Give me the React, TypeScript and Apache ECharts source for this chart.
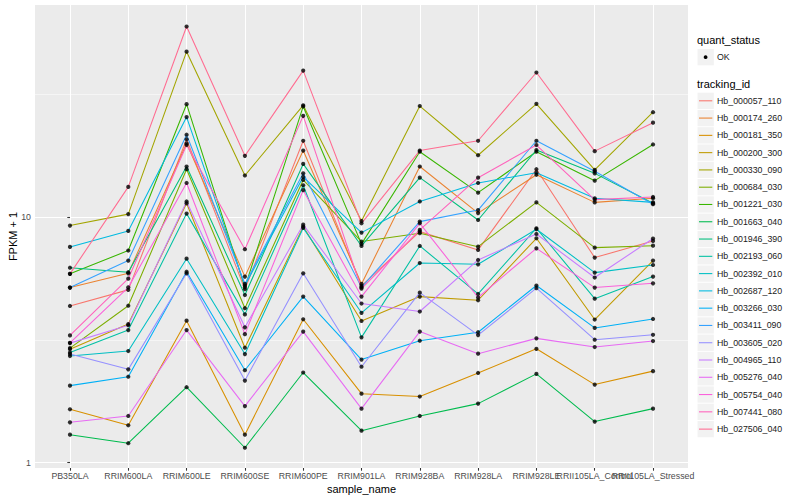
import React, { useEffect, useRef } from "react";
import * as echarts from "echarts";

const sampleNames = [
  "PB350LA", "RRIM600LA", "RRIM600LE", "RRIM600SE", "RRIM600PE", "RRIM901LA",
  "RRIM928BA", "RRIM928LA", "RRIM928LE", "RRII105LA_Control", "RRII105LA_Stressed",
];

const trackingIds = [
  "Hb_000057_110", "Hb_000174_260", "Hb_000181_350", "Hb_000200_300", "Hb_000330_090",
  "Hb_000684_030", "Hb_001221_030", "Hb_001663_040", "Hb_001946_390", "Hb_002193_060",
  "Hb_002392_010", "Hb_002687_120", "Hb_003266_030", "Hb_003411_090", "Hb_003605_020",
  "Hb_004965_110", "Hb_005276_040", "Hb_005754_040", "Hb_007441_080", "Hb_027506_040",
];

const hueColors = [
  "#F8766D", "#EA8331", "#D89000", "#C09B00", "#A3A500",
  "#7CAE00", "#39B600", "#00BB4E", "#00BF7D", "#00C1A3",
  "#00BFC4", "#00BAE0", "#00B0F6", "#35A2FF", "#9590FF",
  "#C77CFF", "#E76BF3", "#FA62DB", "#FF62BC", "#FF6C91",
];

// FPKM + 1 per sample (same order as sampleNames)
const hb_000057_110 = [4.35, 5.06, 20.8, 5.09, 20.5, 5.25, 8.74, 7.36, 15.7, 6.85, 8.01];
const hb_000174_260 = [5.17, 5.91, 20.0, 5.73, 18.7, 5.35, 16.1, 10.4, 14.9, 11.5, 11.95];
const hb_000181_350 = [1.65, 1.42, 3.79, 1.30, 3.84, 1.91, 1.86, 2.32, 2.91, 2.08, 2.36];
const hb_000200_300 = [2.90, 3.67, 11.4, 2.94, 9.16, 3.78, 4.75, 4.59, 8.21, 3.83, 6.66];
const hb_000330_090 = [9.25, 10.3, 47.3, 14.8, 28.6, 9.66, 28.4, 17.9, 29.0, 15.6, 26.8];
const hb_000684_030 = [2.93, 4.36, 15.7, 4.26, 14.2, 7.96, 8.61, 7.59, 11.5, 7.52, 7.66];
const hb_001221_030 = [5.88, 7.32, 28.9, 5.18, 28.3, 7.79, 18.5, 12.6, 18.5, 14.1, 19.8];
const hb_001663_040 = [1.30, 1.20, 2.03, 1.15, 2.33, 1.35, 1.55, 1.74, 2.30, 1.47, 1.66];
const hb_001946_390 = [6.23, 5.97, 16.1, 4.82, 16.5, 7.64, 14.5, 9.75, 18.8, 15.1, 11.4];
const hb_002193_060 = [2.81, 3.47, 10.35, 4.02, 13.5, 3.24, 7.64, 4.87, 9.02, 4.66, 5.73];
const hb_002392_010 = [2.72, 2.85, 6.78, 2.77, 9.05, 4.08, 6.51, 6.43, 8.94, 5.95, 6.39];
const hb_002687_120 = [7.57, 8.80, 25.6, 5.27, 14.6, 8.66, 11.6, 13.8, 15.2, 11.95, 11.5];
const hb_003266_030 = [2.06, 2.24, 6.0, 2.38, 4.75, 2.63, 3.14, 3.40, 5.27, 3.54, 3.85];
const hb_003411_090 = [5.17, 6.66, 21.7, 5.35, 15.1, 5.18, 9.6, 10.7, 20.5, 15.4, 11.3];
const hb_003605_020 = [2.77, 2.40, 5.91, 2.16, 5.91, 2.46, 4.93, 3.31, 5.14, 3.17, 3.32];
const hb_004965_110 = [3.07, 3.63, 11.6, 3.56, 9.33, 4.45, 4.13, 6.70, 8.55, 5.68, 8.19];
const hb_005276_040 = [1.46, 1.55, 3.47, 1.70, 3.42, 1.66, 3.42, 2.78, 3.21, 2.96, 3.13];
const hb_005754_040 = [3.08, 5.18, 13.8, 3.34, 12.9, 4.75, 9.45, 4.71, 7.47, 5.17, 5.38];
const hb_007441_080 = [3.30, 5.62, 19.7, 7.41, 25.9, 5.12, 8.88, 14.5, 19.7, 11.8, 12.1];
const hb_027506_040 = [5.88, 13.3, 59.9, 17.8, 39.6, 9.45, 18.7, 20.5, 38.9, 18.6, 24.3];

const seriesValues = [
  hb_000057_110, hb_000174_260, hb_000181_350, hb_000200_300, hb_000330_090,
  hb_000684_030, hb_001221_030, hb_001663_040, hb_001946_390, hb_002193_060,
  hb_002392_010, hb_002687_120, hb_003266_030, hb_003411_090, hb_003605_020,
  hb_004965_110, hb_005276_040, hb_005754_040, hb_007441_080, hb_027506_040,
];

const yMajorTicks = [1, 10];
const yMinorLines = [3.1623, 31.623];
const xTickIdx = sampleNames.map((_, i) => i);
// labels split over two axes so the overlapping ones are all drawn
const xLabelIdxA = xTickIdx.filter((i) => i % 2 === 0);
const xLabelIdxB = xTickIdx.filter((i) => i % 2 === 1);

const FONT = "'Liberation Sans', Arial, Helvetica, sans-serif";

export default function App() {
  const ref = useRef<HTMLDivElement>(null);

  useEffect(() => {
    if (!ref.current) return;
    const chart = echarts.init(ref.current, null, { renderer: "svg" });

    const lineSeries = seriesValues.map((vals, s) => ({
      type: "line",
      name: trackingIds[s],
      data: vals.map((v, i) => [i, v]),
      showSymbol: false,
      symbol: "none",
      lineStyle: { color: hueColors[s], width: 1.07 },
      itemStyle: { color: hueColors[s] },
      z: 2,
      silent: true,
    }));

    const points: number[][] = [];
    seriesValues.forEach((vals) => vals.forEach((v, i) => points.push([i, v])));

    const legendEls: any[] = [];
    legendEls.push({
      type: "text", x: 697, y: 40,
      style: { text: "quant_status", fontSize: 11, fontFamily: FONT, fill: "#000", align: "left", verticalAlign: "middle" },
    });
    legendEls.push({ type: "rect", shape: { x: 697.5, y: 49, width: 16.3, height: 16.3 }, style: { fill: "#F2F2F2" } });
    legendEls.push({ type: "circle", shape: { cx: 705.6, cy: 57.2, r: 1.9 }, style: { fill: "#000" } });
    legendEls.push({
      type: "text", x: 717, y: 57.2,
      style: { text: "OK", fontSize: 8.8, fontFamily: FONT, fill: "#1A1A1A", align: "left", verticalAlign: "middle" },
    });
    legendEls.push({
      type: "text", x: 697, y: 83.5,
      style: { text: "tracking_id", fontSize: 11, fontFamily: FONT, fill: "#000", align: "left", verticalAlign: "middle" },
    });
    trackingIds.forEach((id, i) => {
      const cy = 100.8 + 17.28 * i;
      legendEls.push({ type: "rect", shape: { x: 697.5, y: cy - 8.15, width: 16.3, height: 16.3 }, style: { fill: "#F2F2F2" } });
      legendEls.push({
        type: "line", shape: { x1: 699, y1: cy, x2: 712.3, y2: cy },
        style: { stroke: hueColors[i], lineWidth: 1.07 },
      });
      legendEls.push({
        type: "text", x: 717, y: cy,
        style: { text: id, fontSize: 8.8, fontFamily: FONT, fill: "#1A1A1A", align: "left", verticalAlign: "middle" },
      });
    });

    const labelStyle = {
      formatter: (v: number) => sampleNames[Math.round(v)] ?? "",
      fontSize: 8.8, color: "#4D4D4D", margin: 3.5, fontFamily: FONT,
      hideOverlap: false,
      showMinLabel: true,
      showMaxLabel: true,
    };

    const option: any = {
      animation: false,
      backgroundColor: "#FFFFFF",
      textStyle: { fontFamily: FONT },
      grid: {
        left: 35, right: 112, top: 5, bottom: 32,
        show: true, backgroundColor: "#EBEBEB", borderWidth: 0,
        containLabel: false,
        outerBoundsMode: "none",
      },
      xAxis: [
        {
          type: "value",
          min: -0.6,
          max: 10.6,
          name: "sample_name",
          nameLocation: "middle",
          nameGap: 15,
          nameMoveOverlap: false,
          nameTextStyle: { fontSize: 11, color: "#000", fontFamily: FONT },
          axisLine: { show: false },
          axisTick: { show: true, customValues: xTickIdx, length: 2.7, lineStyle: { color: "#333333", width: 1.07 } },
          axisLabel: { ...labelStyle, customValues: xLabelIdxA },
          splitLine: { show: true, lineStyle: { color: "#FFFFFF", width: 1.07 } },
        },
        {
          type: "value",
          min: -0.6,
          max: 10.6,
          position: "bottom",
          offset: 0,
          axisLine: { show: false },
          axisTick: { show: false, customValues: xLabelIdxB },
          axisLabel: { ...labelStyle, customValues: xLabelIdxB },
          splitLine: { show: false },
        },
      ],
      yAxis: [
        {
          type: "log",
          logBase: 10,
          min: 0.951,
          max: 73.3,
          name: "FPKM + 1",
          nameLocation: "middle",
          nameGap: 17,
          nameMoveOverlap: false,
          nameTextStyle: { fontSize: 11, color: "#000", fontFamily: FONT },
          axisLine: { show: false },
          axisTick: { show: true, customValues: yMajorTicks, length: 2.7, lineStyle: { color: "#333333", width: 1.07 } },
          axisLabel: {
            customValues: yMajorTicks,
            formatter: (v: number) => String(Math.round(v)),
            fontSize: 8.8, color: "#4D4D4D", margin: 4, fontFamily: FONT,
            showMinLabel: true,
            showMaxLabel: true,
          },
          splitLine: { show: true, lineStyle: { color: "#FFFFFF", width: 1.07 } },
        },
        {
          type: "log",
          logBase: 10,
          min: 0.951,
          max: 73.3,
          position: "left",
          axisLine: { show: false },
          axisTick: { show: false, customValues: yMinorLines },
          axisLabel: { show: false, customValues: yMinorLines },
          splitLine: { show: true, lineStyle: { color: "#FFFFFF", width: 0.53 } },
        },
      ],
      series: [
        ...lineSeries,
        {
          type: "scatter",
          name: "quant_status",
          data: points,
          symbol: "circle",
          symbolSize: 4.2,
          itemStyle: { color: "#000000" },
          z: 5,
          silent: true,
        },
      ],
      graphic: legendEls,
    };

    chart.setOption(option);
    return () => chart.dispose();
  }, []);

  return (
    <div
      ref={ref}
      style={{ position: "fixed", left: 0, top: 0, width: 800, height: 500 }}
    />
  );
}
